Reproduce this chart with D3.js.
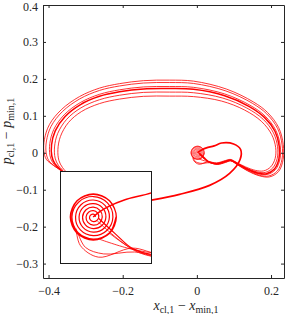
<!DOCTYPE html>
<html>
<head>
<meta charset="utf-8">
<script src="https://cdn.jsdelivr.net/npm/d3@7"></script>
<style>
  body { margin: 0; background: #fff; }
  svg { display: block; }
</style>
</head>
<body>
<div id="chart"></div>
<script>
// axis ranges and ticks
const xTicks = [-0.4, -0.2, 0, 0.2]
const yTicks = [-0.3, -0.2, -0.1, 0, 0.1, 0.2, 0.3, 0.4]
const xDomain = [-0.415, 0.235]
const yDomain = [-0.339, 0.4]
const insetXDomain = [-0.0237, 0.0465]
const insetYDomain = [-0.0355, 0.0355]

// trajectory, [x_cl - x_min, p_cl - p_min]
const returnPath = [
  [-0.2952, -0.1261], [-0.2222, -0.1450], [-0.1250, -0.1288], [-0.0467, -0.1126],
  [0.0343, -0.0883], [0.0883, -0.0559], [0.1166, -0.0181], [0.1180, 0.0089],
  [0.0991, 0.0238], [0.0667, 0.0265], [0.0467, 0.0186], [0.0259, 0.0132],
  [0.0143, 0.0084], [0.0065, 0.0038], [0.0019, 0.0000]
]

const spiral = [
  [0.0035, 0], [0.0033, 0.0013], [0.0020, 0.0022], [0.0002, 0.0018], [-0.0009, 0], [-0.0003, -0.0023], [0.0020, -0.0035], [0.0047, -0.0027],
  [0.0062, 0], [0.0052, 0.0032], [0.0020, 0.0049], [-0.0017, 0.0037], [-0.0036, 0], [-0.0022, -0.0042], [0.0020, -0.0063], [0.0067, -0.0047],
  [0.0089, 0], [0.0071, 0.0051], [0.0020, 0.0076], [-0.0036, 0.0056], [-0.0063, 0], [-0.0041, -0.0061], [0.0020, -0.0090], [0.0086, -0.0066],
  [0.0117, 0], [0.0091, 0.0071], [0.0020, 0.0103], [-0.0056, 0.0076], [-0.0090, 0], [-0.0060, -0.0080], [0.0020, -0.0117], [0.0105, -0.0085],
  [0.0144, 0], [0.0110, 0.0090], [0.0020, 0.0131], [-0.0075, 0.0095], [-0.0117, 0], [-0.0080, -0.0100], [0.0020, -0.0144], [0.0124, -0.0104],
  [0.0171, 0], [0.0129, 0.0109], [0.0020, 0.0158], [-0.0094, 0.0114], [-0.0145, 0], [-0.0099, -0.0119], [0.0020, -0.0171], [0.0143, -0.0123],
  [0.0197, 0], [0.0146, 0.0126], [0.0020, 0.0178], [-0.0106, 0.0126], [-0.0158, 0], [-0.0106, -0.0126], [0.0020, -0.0178], [0.0146, -0.0126],
  [0.0198, 0], [0.0144, 0.0124], [0.0020, 0.0175], [-0.0104, 0.0124], [-0.0155, 0], [-0.0104, -0.0124], [0.0020, -0.0175], [0.0144, -0.0124],
  [0.0195, 0]
]

const loop1 = [
  [-0.0094, -0.0136], [-0.0040, -0.0235], [0.0100, -0.0285], [0.0340, -0.0270], [0.0559, -0.0316],
  [0.0775, -0.0262], [0.0910, -0.0221], [0.1099, -0.0329], [0.1369, -0.0491], [0.1693, -0.0626],
  [0.1963, -0.0653], [0.2206, -0.0505], [0.2327, -0.0181], [0.2330, 0.0224], [0.2206, 0.0683],
  [0.1909, 0.1088], [0.1531, 0.1372], [0.0802, 0.1723], [-0.0089, 0.1939], [-0.0737, 0.1966],
  [-0.1439, 0.1952], [-0.2087, 0.1871], [-0.2627, 0.1750], [-0.3167, 0.1520], [-0.3653, 0.1169],
  [-0.3977, 0.0764], [-0.4112, 0.0359], [-0.4126, 0.0035], [-0.4058, -0.0181], [-0.3869, -0.0343],
  [-0.3572, -0.0545], [-0.2952, -0.1261]
]
const loop2 = [
  [0.0050, -0.0030], [0.0340, -0.0260], [0.0555, -0.0310],
  [0.0775, -0.0254], [0.0910, -0.0215], [0.1095, -0.0319], [0.1361, -0.0475], [0.1677, -0.0604],
  [0.1939, -0.0629], [0.2174, -0.0487], [0.2295, -0.0177], [0.2299, 0.0212], [0.2178, 0.0655],
  [0.1885, 0.1052], [0.1495, 0.1340], [0.0782, 0.1674], [-0.0090, 0.1876], [-0.0737, 0.1901],
  [-0.1439, 0.1888], [-0.2087, 0.1808], [-0.2627, 0.1687], [-0.3159, 0.1459], [-0.3625, 0.1116],
  [-0.3932, 0.0715], [-0.4057, 0.0319], [-0.4065, -0.0001], [-0.3993, -0.0213], [-0.3804, -0.0384],
  [-0.3503, -0.0612], [-0.2952, -0.1261]
]
const loop3 = [
  [0.0145, -0.0125], [0.0330, -0.0250], [0.0548, -0.0300],
  [0.0775, -0.0240], [0.0910, -0.0205], [0.1088, -0.0302], [0.1347, -0.0448], [0.1650, -0.0567],
  [0.1898, -0.0588], [0.2120, -0.0456], [0.2241, -0.0170], [0.2248, 0.0192], [0.2130, 0.0607],
  [0.1844, 0.0991], [0.1434, 0.1286], [0.0748, 0.1593], [-0.0090, 0.1771], [-0.0737, 0.1793],
  [-0.1439, 0.1782], [-0.2087, 0.1704], [-0.2627, 0.1582], [-0.3145, 0.1358], [-0.3577, 0.1029],
  [-0.3858, 0.0634], [-0.3966, 0.0251], [-0.3964, -0.0062], [-0.3885, -0.0267], [-0.3696, -0.0451],
  [-0.3388, -0.0723], [-0.2952, -0.1261]
]
const loop4 = [
  [0.0060, -0.0010], [0.0190, -0.0130], [0.0328, -0.0246], [0.0545, -0.0294],
  [0.0775, -0.0233], [0.0910, -0.0200], [0.1085, -0.0293], [0.1340, -0.0434], [0.1636, -0.0548],
  [0.1877, -0.0567], [0.2092, -0.0440], [0.2213, -0.0167], [0.2221, 0.0181], [0.2106, 0.0583],
  [0.1823, 0.0959], [0.1402, 0.1258], [0.0730, 0.1551], [-0.0090, 0.1717], [-0.0737, 0.1737],
  [-0.1439, 0.1727], [-0.2087, 0.1649], [-0.2627, 0.1528], [-0.3138, 0.1305], [-0.3553, 0.0983],
  [-0.3820, 0.0592], [-0.3919, 0.0216], [-0.3911, -0.0094], [-0.3829, -0.0295], [-0.3640, -0.0486],
  [-0.3329, -0.0781], [-0.2952, -0.1261]
]
const loop5 = [
  [-0.0113, -0.0089], [-0.0080, -0.0220], [0.0060, -0.0310], [0.0320, -0.0240], [0.0539, -0.0285],
  [0.0775, -0.0222], [0.0910, -0.0191], [0.1079, -0.0279], [0.1329, -0.0410], [0.1612, -0.0515],
  [0.1842, -0.0532], [0.2044, -0.0414], [0.2165, -0.0161], [0.2176, 0.0163], [0.2064, 0.0541],
  [0.1788, 0.0906], [0.1349, 0.1210], [0.0701, 0.1480], [-0.0090, 0.1625], [-0.0737, 0.1642],
  [-0.1439, 0.1634], [-0.2087, 0.1557], [-0.2627, 0.1436], [-0.3127, 0.1216], [-0.3511, 0.0906],
  [-0.3754, 0.0521], [-0.3839, 0.0157], [-0.3822, -0.0147], [-0.3734, -0.0343], [-0.3545, -0.0546],
  [-0.3228, -0.0880], [-0.2952, -0.1261]
]
const loop6 = [
  [0.0066, -0.0171], [0.0316, -0.0248], [0.0532, -0.0275],
  [0.0775, -0.0208], [0.0910, -0.0181], [0.1072, -0.0262], [0.1315, -0.0383], [0.1585, -0.0478],
  [0.1801, -0.0491], [0.1990, -0.0383], [0.2111, -0.0154], [0.2125, 0.0143], [0.2017, 0.0494],
  [0.1747, 0.0845], [0.1288, 0.1156], [0.0667, 0.1399], [-0.0089, 0.1520], [-0.0737, 0.1534],
  [-0.1439, 0.1528], [-0.2087, 0.1453], [-0.2627, 0.1331], [-0.3113, 0.1115], [-0.3464, 0.0818],
  [-0.3680, 0.0440], [-0.3748, 0.0089], [-0.3721, -0.0208], [-0.3626, -0.0397], [-0.3437, -0.0613],
  [-0.3113, -0.0991], [-0.2952, -0.1261]
]

// w: stroke in the main axes, iw: stroke in the inset
const pieces = [
  { pts: loop1, w: 0.8, iw: 0.8 },
  { pts: loop2, w: 0.8, iw: 0.8 },
  { pts: loop3, w: 0.8, iw: 0.8 },
  { pts: loop4, w: 1.5, iw: 1.2 },
  { pts: loop5, w: 0.8, iw: 0.8 },
  { pts: loop6, w: 0.8, iw: 0.8 },
  { pts: returnPath, w: 1.7, iw: 1.6 },
  { pts: spiral, w: 0.6, iw: 1.2 }
]

const width = 288
const height = 314
const serif = '"Liberation Serif", "Times New Roman", serif'

const x = d3.scaleLinear().domain(xDomain).range([43, 284])
const y = d3.scaleLinear().domain(yDomain).range([278, 5])

const ix = d3.scaleLinear().domain(insetXDomain).range([60, 151])
const iy = d3.scaleLinear().domain(insetYDomain).range([263, 171])

const svg = d3.select('#chart').append('svg')
  .attr('width', width)
  .attr('height', height)

const defs = svg.append('defs')
defs.append('clipPath').attr('id', 'plotClip')
  .append('rect').attr('x', 43.5).attr('y', 5.5).attr('width', 241).attr('height', 273)
defs.append('clipPath').attr('id', 'insetClip')
  .append('rect').attr('x', 60).attr('y', 171).attr('width', 91).attr('height', 92)

const mainLine = d3.line().x(d => x(d[0])).y(d => y(d[1])).curve(d3.curveCatmullRom.alpha(0.5))
const insetLine = d3.line().x(d => ix(d[0])).y(d => iy(d[1])).curve(d3.curveCatmullRom.alpha(0.5))

svg.append('g')
  .attr('clip-path', 'url(#plotClip)')
  .selectAll('path')
  .data(pieces).enter()
  .append('path')
  .attr('d', d => mainLine(d.pts))
  .attr('fill', 'none')
  .attr('stroke', 'red')
  .attr('stroke-width', d => d.w)

// inset: zoom on the focus near the origin
svg.append('rect')
  .attr('x', 60).attr('y', 171).attr('width', 91).attr('height', 92)
  .attr('fill', 'white')

svg.append('g')
  .attr('clip-path', 'url(#insetClip)')
  .selectAll('path')
  .data(pieces).enter()
  .append('path')
  .attr('d', d => insetLine(d.pts))
  .attr('fill', 'none')
  .attr('stroke', 'red')
  .attr('stroke-width', d => d.iw)

svg.append('rect')
  .attr('x', 60.5).attr('y', 171.5).attr('width', 91).attr('height', 92)
  .attr('fill', 'none')
  .attr('stroke', '#1a1a1a')
  .attr('stroke-width', 1)

const fmt = d => d === 0 ? '0' : d3.format('.1f')(d)
const styleAxis = g => g
  .attr('font-family', serif)
  .attr('font-size', 12)
  .call(g => g.selectAll('path, line').attr('stroke', '#262626'))
  .call(g => g.selectAll('text').attr('fill', '#262626'))

svg.append('g')
  .attr('transform', 'translate(0,278)')
  .call(d3.axisBottom(x).tickValues(xTicks).tickSizeInner(-3).tickSizeOuter(0).tickPadding(8).tickFormat(fmt))
  .call(styleAxis)

svg.append('g')
  .attr('transform', 'translate(0,5)')
  .call(d3.axisTop(x).tickValues(xTicks).tickSizeInner(-3).tickSizeOuter(0).tickFormat(''))
  .call(styleAxis)

svg.append('g')
  .attr('transform', 'translate(43,0)')
  .call(d3.axisLeft(y).tickValues(yTicks).tickSizeInner(-3).tickSizeOuter(0).tickPadding(5).tickFormat(fmt))
  .call(styleAxis)
  .call(g => g.select('.tick:last-of-type text').attr('dy', '0.45em'))

svg.append('g')
  .attr('transform', 'translate(284,0)')
  .call(d3.axisRight(y).tickValues(yTicks).tickSizeInner(-3).tickSizeOuter(0).tickFormat(''))
  .call(styleAxis)

// axis labels
const xLabel = svg.append('text')
  .attr('x', 186)
  .attr('y', 310)
  .attr('text-anchor', 'middle')
  .attr('font-family', serif)
  .attr('font-size', 14)
  .attr('fill', '#262626')
xLabel.append('tspan').attr('font-style', 'italic').text('x')
xLabel.append('tspan').attr('font-size', 10).attr('dy', 2.5).text('cl,1')
xLabel.append('tspan').attr('dy', -2.5).text(' − ')
xLabel.append('tspan').attr('font-style', 'italic').text('x')
xLabel.append('tspan').attr('font-size', 10).attr('dy', 2.5).text('min,1')

const yLabel = svg.append('text')
  .attr('transform', 'translate(11,131) rotate(-90)')
  .attr('text-anchor', 'middle')
  .attr('font-family', serif)
  .attr('font-size', 14)
  .attr('fill', '#262626')
yLabel.append('tspan').attr('font-style', 'italic').text('p')
yLabel.append('tspan').attr('font-size', 10).attr('dy', 2.5).text('cl,1')
yLabel.append('tspan').attr('dy', -2.5).text(' − ')
yLabel.append('tspan').attr('font-style', 'italic').text('p')
yLabel.append('tspan').attr('font-size', 10).attr('dy', 2.5).text('min,1')
</script>
</body>
</html>
